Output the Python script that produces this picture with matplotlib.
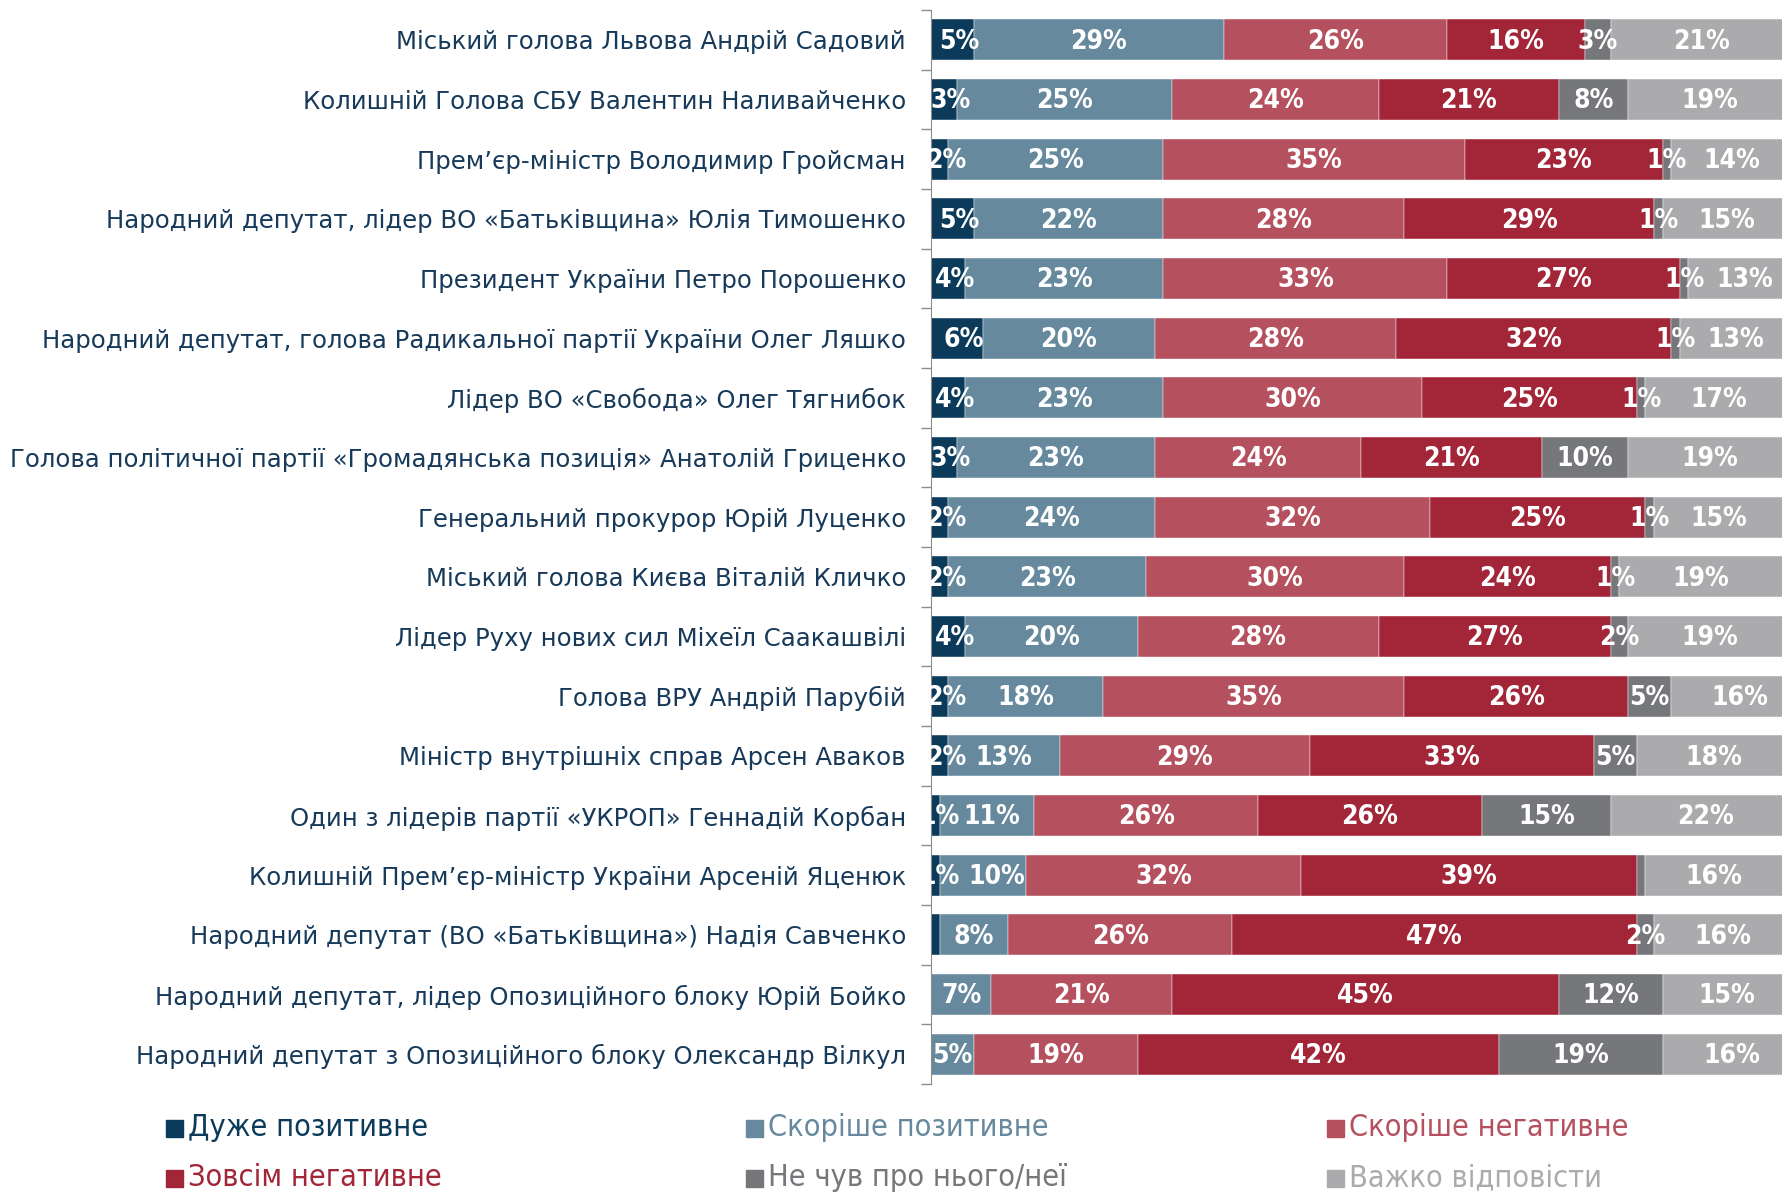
import numpy as np
import matplotlib.pyplot as plt
from matplotlib.patches import Rectangle

# ============================================================
# DATA
# ============================================================
politicians = [
    "Міський голова Львова Андрій Садовий",
    "Колишній Голова СБУ Валентин Наливайченко",
    "Прем’єр-міністр Володимир Гройсман",
    "Народний депутат, лідер ВО «Батьківщина» Юлія Тимошенко",
    "Президент України Петро Порошенко",
    "Народний депутат, голова Радикальної партії України Олег Ляшко",
    "Лідер ВО «Свобода» Олег Тягнибок",
    "Голова політичної партії «Громадянська позиція» Анатолій Гриценко",
    "Генеральний прокурор Юрій Луценко",
    "Міський голова Києва Віталій Кличко",
    "Лідер Руху нових сил Міхеїл Саакашвілі",
    "Голова ВРУ Андрій Парубій",
    "Міністр внутрішніх справ Арсен Аваков",
    "Один з лідерів партії «УКРОП» Геннадій Корбан",
    "Колишній Прем’єр-міністр України Арсеній Яценюк",
    "Народний депутат (ВО «Батьківщина») Надія Савченко",
    "Народний депутат, лідер Опозиційного блоку Юрій Бойко",
    "Народний депутат з Опозиційного блоку Олександр Вілкул",
]

categories = ["Дуже позитивне", "Скоріше позитивне", "Скоріше негативне",
              "Зовсім негативне", "Не чув про нього/неї", "Важко відповісти"]

very_pos = [5, 3, 2, 5, 4, 6, 4, 3, 2, 2, 4, 2, 2, 1, 1, 1, 0, 0]
rather_pos = [29, 25, 25, 22, 23, 20, 23, 23, 24, 23, 20, 18, 13, 11, 10, 8, 7, 5]
rather_neg = [26, 24, 35, 28, 33, 28, 30, 24, 32, 30, 28, 35, 29, 26, 32, 26, 21, 19]
very_neg = [16, 21, 23, 29, 27, 32, 25, 21, 25, 24, 27, 26, 33, 26, 39, 47, 45, 42]
not_heard = [3, 8, 1, 1, 1, 1, 1, 10, 1, 1, 2, 5, 5, 15, 1, 2, 12, 19]
hard_say = [21, 19, 14, 15, 13, 13, 17, 19, 15, 19, 19, 16, 18, 22, 16, 16, 15, 16]

# segments without a printed label in the original
hidden_labels = {(14, 4), (15, 0)}
# small horizontal nudges of a few labels (row, series) -> percent points
label_nudge = {(13, 0): -0.3, (14, 0): -0.3, (13, 1): 0.6, (14, 1): 1.6}

# ============================================================
# STYLE
# ============================================================
colors = ['#0B3A5A', '#66899E', '#B5505E', '#A22538', '#76777B', '#ABABAD']
label_color = '#173A5A'
W, H = 1783, 1194

series = [very_pos, rather_pos, rather_neg, very_neg, not_heard, hard_say]

fig = plt.figure(figsize=(W / 100, H / 100), dpi=100)
ax = fig.add_axes([931 / W, 1 - 1084 / H, 852 / W, 1074 / H])

y = np.arange(len(politicians))
left = np.zeros(len(politicians))
for k, vals in enumerate(series):
    vals = np.array(vals, dtype=float)
    ax.barh(y, vals, left=left, height=0.69, color=colors[k],
            edgecolor='white', linewidth=0.3)
    for i, v in enumerate(vals):
        if v >= 1 and (i, k) not in hidden_labels:
            xpos = left[i] + v / 2 + (0.8 if k == 0 else 0)
            xpos += label_nudge.get((i, k), 0)
            ax.text(xpos, y[i] + 0.03, f"{int(v)}%", ha='center',
                    va='center', color='white', fontsize=19,
                    fontweight='bold', fontstretch='condensed',
                    family='DejaVu Sans', clip_on=True)
    left += vals

ax.set_xlim(0, 99)
ax.set_ylim(len(politicians) - 0.5, -0.5)
ax.set_yticks(y)
ax.set_yticklabels(politicians, fontsize=17.6, color=label_color)
ax.tick_params(axis='y', which='major', length=0, pad=18)
ax.set_yticks(np.arange(len(politicians) + 1) - 0.5, minor=True)
ax.tick_params(axis='y', which='minor', length=7, color='#8C8C8C', width=1)
ax.set_xticks([])
for s in ['top', 'right', 'bottom']:
    ax.spines[s].set_visible(False)
ax.spines['left'].set_color('#8C8C8C')

# ============================================================
# LEGEND (manual, two rows x three columns)
# ============================================================
leg_x = [166, 746, 1327]
leg_y = [1128, 1178]
order = [[0, 1, 2], [3, 4, 5]]
for r, row in enumerate(order):
    for c, k in enumerate(row):
        x0 = leg_x[c] / W
        y0 = 1 - leg_y[r] / H
        fig.patches.append(Rectangle((x0, y0 - 9 / H), 17 / W, 17 / H,
                                     transform=fig.transFigure,
                                     color=colors[k]))
        fig.text(x0 + 22 / W, y0, categories[k], color=colors[k],
                 fontsize=22, va='center', ha='left', fontstretch='condensed')

fig.savefig("out.png", dpi=100, facecolor='white')
